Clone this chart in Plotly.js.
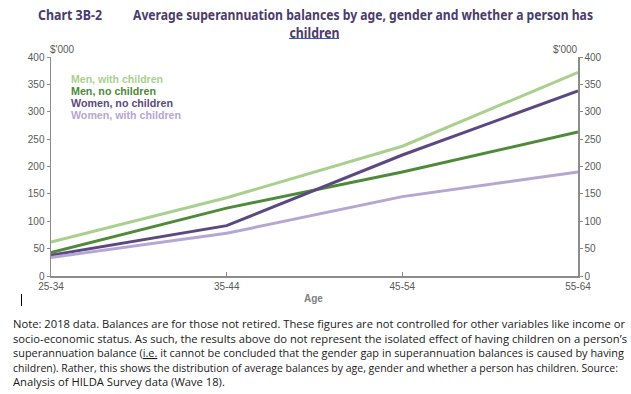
<!DOCTYPE html>
<html><head><meta charset="utf-8">
<script src="https://cdn.plot.ly/plotly-3.0.1.min.js"></script>
<style>body{margin:0;background:#fff}#c{width:631px;height:394px}</style>
</head><body><div id="c"></div>
<script>
const ages = ["25-34","35-44","45-54","55-64"];
const menWithChildren = [62, 143, 237, 372];
const menNoChildren = [43, 124, 190, 263];
const womenNoChildren = [38, 92, 221, 338];
const womenWithChildren = [34, 78, 145, 190];
const yTicks = [0,50,100,150,200,250,300,350,400];
const seriesNames = ["Men, with children","Men, no children","Women, no children","Women, with children"];
const seriesColors = ["#a9d08e","#4e8a3a","#5c4880","#b5a6d3"];
const noteLines = [
"Note: 2018 data. Balances are for those not retired. These figures are not controlled for other variables like income or",
"socio-economic status. As such, the results above do not represent the isolated effect of having children on a person\u2019s",
"superannuation balance (<span style=\"text-decoration:underline;text-decoration-color:#3b5bb5\">i.e.</span> it cannot be concluded that the gender gap in superannuation balances is caused by having",
"children). Rather, this shows the distribution of average balances by age, gender and whether a person has children. Source:",
"Analysis of HILDA Survey data (Wave 18)."
];
const seriesData = [menWithChildren, menNoChildren, womenNoChildren, womenWithChildren];
const xIdx = ages.map((a,i)=>i);
const traces = seriesData.map((d,i)=>({x:xIdx,y:d,type:'scatter',mode:'lines',name:seriesNames[i],
  line:{color:seriesColors[i],width:3},hoverinfo:'skip'}));
traces.push({x:xIdx,y:womenWithChildren,yaxis:'y2',type:'scatter',mode:'lines',line:{width:0},opacity:0,showlegend:false,hoverinfo:'skip'});
const axisColor = "#8c8c8c";
const tickFont = {family:"Liberation Sans, Arial, sans-serif",size:10,color:"#595959"};
const px = v => (v-51)/527, py = v => (276-v)/219;
const ann = [];
const fit = {}; // annotation index -> {w: target width, a: 'left'|'center'}
function add(a, w){ ann.push(Object.assign({xref:'paper',yref:'paper',showarrow:false,borderpad:0,yanchor:'middle'},a)); if(w) fit[ann.length-1]={w:w,a:a.xanchor}; }
seriesNames.forEach((n,i)=>add({x:px(70),y:py(78.5+i*12),xanchor:'left',text:'<b>'+n+'</b>',
  font:{family:"Liberation Sans, Arial, sans-serif",size:10.5,color:seriesColors[i]}}, [92,85,102,110][i]));
add({x:px(62.5),y:py(50),xanchor:'center',text:"$'000",font:tickFont});
add({x:px(565),y:py(50),xanchor:'center',text:"$'000",font:tickFont});
add({x:px(313.5),y:py(298),xanchor:'center',text:"<b>Age</b>",font:{family:"Liberation Sans, Arial, sans-serif",size:10,color:"#7f7f7f"}});
const tFont = {family:"Noto Sans, sans-serif",size:14,color:"#4a3c6b"};
add({x:px(37),y:py(15),xanchor:'left',text:"<b>Chart 3B-2</b>",font:tFont}, 64);
add({x:px(132),y:py(15),xanchor:'left',text:"<b>Average superannuation balances by age, gender and whether a person has</b>",font:tFont}, 460);
add({x:px(314),y:py(32.5),xanchor:'center',text:"<b>children</b>",font:tFont}, 50);
const noteY = [323, 338, 352.5, 367, 381.5];
const noteW = [612, 614, 611, 605, -1];
noteLines.forEach((t,i)=>add({x:px(12),y:py(noteY[i]),xanchor:'left',text:t,
  font:{family:"Open Sans, sans-serif",size:11,color:"#1a1a1a"}}, noteW[i]));
const layout = {
  width:631,height:394,margin:{l:51,r:53,t:57,b:118},paper_bgcolor:'#fff',plot_bgcolor:'#fff',showlegend:false,
  xaxis:{range:[0,3],tickvals:xIdx,ticktext:ages,showgrid:false,zeroline:false,showline:true,linecolor:axisColor,linewidth:1.5,
    ticks:'inside',ticklen:4,tickcolor:axisColor,tickfont:tickFont,fixedrange:true},
  yaxis:{range:[0,400],tickvals:yTicks,showgrid:false,zeroline:false,showline:true,linecolor:axisColor,linewidth:1.5,
    ticks:'outside',ticklen:3,tickcolor:axisColor,tickfont:tickFont,fixedrange:true},
  yaxis2:{range:[0,400],tickvals:yTicks,overlaying:'y',side:'right',showgrid:false,zeroline:false,showline:true,linecolor:axisColor,linewidth:1.5,
    ticks:'outside',ticklen:3,tickcolor:axisColor,tickfont:tickFont,fixedrange:true},
  annotations:ann,
  shapes:[{type:'line',xref:'paper',yref:'paper',x0:px(21.5),x1:px(21.5),y0:py(294),y1:py(306),line:{color:'#000',width:1}},
          {type:'line',xref:'paper',yref:'paper',x0:px(289),x1:px(339),y0:py(38.5),y1:py(38.5),line:{color:'#3b5bb5',width:1}}]
};
Plotly.newPlot('c',traces,layout,{displayModeBar:false,staticPlot:true}).then(gd=>{
  const groups = gd.querySelectorAll('.annotation');
  let ratio = null;
  const items = [];
  groups.forEach(g=>{
    const idx = +g.getAttribute('data-index');
    const t = g.querySelector('text.annotation-text');
    if(!t || !fit[idx]) return;
    items.push({t:t, f:fit[idx], w:t.getComputedTextLength(), idx:idx});
  });
  items.forEach(it=>{ if(it.f.w===612 && ratio===null) ratio = 612/it.w; });
  items.forEach(it=>{
    let target = it.f.w < 0 ? it.w*(ratio||0.87) : it.f.w;
    const x = parseFloat(it.t.getAttribute('x')) || 0;
    it.t.setAttribute('textLength', target);
    it.t.setAttribute('lengthAdjust', 'spacingAndGlyphs');
    if(it.f.a==='left'){
      it.t.setAttribute('x', x - (it.w - target)/2);
    }
  });
});
</script></body></html>
